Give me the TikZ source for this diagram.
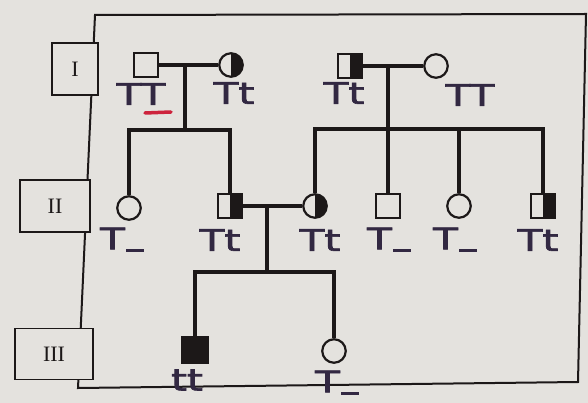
\documentclass[tikz,border=0pt]{standalone}
\usepackage{fontspec}
\usepackage{graphicx}
\setmainfont{Liberation Serif}
\newfontfamily\handfont[FakeBold=2]{DejaVu Sans}
\definecolor{paper}{RGB}{228,226,222}
\definecolor{ink}{RGB}{28,24,24}
\definecolor{pen}{RGB}{50,40,66}
\definecolor{redpen}{RGB}{205,35,60}
\tikzset{
  person/.style={draw=ink, line width=2.2pt, fill=paper, inner sep=0pt},
  male/.style={person, rectangle, minimum size=24pt},
  female/.style={person, circle, minimum size=23.5pt},
  halfaff/.style={path picture={\fill[ink] (path picture bounding box.north) rectangle (path picture bounding box.south east);}},
  affected/.style={fill=ink},
  pline/.style={draw=ink, line width=3.5pt, line join=miter},
  geno/.style={text=pen, inner sep=0pt, font=\handfont\fontsize{30}{30}\selectfont},
  genbox/.style={draw=ink, line width=1.5pt, fill=paper, inner sep=0pt, font=\fontsize{22}{22}\selectfont, text=ink},
}
\newcommand{\hw}[1]{\scalebox{1.35}[1]{#1}}
\newcommand{\dsh}{\kern1pt\rule[-3pt]{13pt}{3.8pt}}
\begin{document}
\begin{tikzpicture}[x=1pt,y=-1pt]
\fill[paper] (0,0) rectangle (588,403);
\useasboundingbox (0,0) rectangle (588,403);
% frame
\draw[ink, line width=2pt, line join=miter] (95,15) -- (586,14) -- (578,382) -- (78,388) -- cycle;
% generation boxes
\node[genbox, minimum width=46pt, minimum height=52pt] (gI) at (75,69) {I};
\node[genbox, minimum width=70pt, minimum height=52pt] (gII) at (55,206) {II};
\node[genbox, minimum width=78pt, minimum height=51pt] (gIII) at (54,354) {III};
% generation I
\node[male] (i1) at (146,65) {};
\node[female, halfaff] (i2) at (231,65) {};
\node[male, halfaff] (i3) at (350,66) {};
\node[female] (i4) at (436,66) {};
% generation II
\node[female] (ii1) at (129,208) {};
\node[male, halfaff] (ii2) at (230,206) {};
\node[female, halfaff] (ii3) at (315,206) {};
\node[male] (ii4) at (388,206) {};
\node[female] (ii5) at (459,206) {};
\node[male, halfaff] (ii6) at (543,206) {};
% generation III
\node[male, affected, minimum size=26pt] (iii1) at (195,350) {};
\node[female] (iii2) at (334,351) {};
% coordinates
\coordinate (m1) at (185,65);
\coordinate (s1) at (185,130);
\coordinate (m2) at (388,66);
\coordinate (s2) at (388,129);
\coordinate (m3) at (267,206);
\coordinate (s3) at (267,272);
% connectors
\draw[pline] (i1) -- (i2);
\draw[pline] (m1) -- (s1);
\draw[pline] (ii1) |- (s1) -| (ii2);
\draw[pline] (i3) -- (i4);
\draw[pline] (m2) -- (ii4);
\draw[pline] (ii3) |- (s2) -| (ii6);
\draw[pline] (ii5) -- (ii5 |- s2);
\draw[pline] (ii2) -- (ii3);
\draw[pline] (m3) -- (s3);
\draw[pline] (iii1) |- (s3) -| (iii2);
% genotype labels
\node[geno] (l1) at (141,94) {\hw{TT}};
\node[geno] (l2) at (234,93) {\hw{Tt}};
\node[geno] (l3) at (344,93) {\hw{Tt}};
\node[geno] (l4) at (470,95) {\hw{TT}};
\node[geno] (l5) at (122,240) {\hw{T\dsh}};
\node[geno] (l6) at (220,240) {\hw{Tt}};
\node[geno] (l7) at (320,240) {\hw{Tt}};
\node[geno] (l8) at (389,240) {\hw{T\dsh}};
\node[geno] (l9) at (455,240) {\hw{T\dsh}};
\node[geno] (l10) at (538,240) {\hw{Tt}};
\node[geno] (l11) at (187,380) {\hw{tt}};
\node[geno] (l12) at (337,383) {\hw{T\dsh}};
\draw[redpen, line width=3.5pt, line cap=round] (145,113) -- (171,112);
\end{tikzpicture}
\end{document}
